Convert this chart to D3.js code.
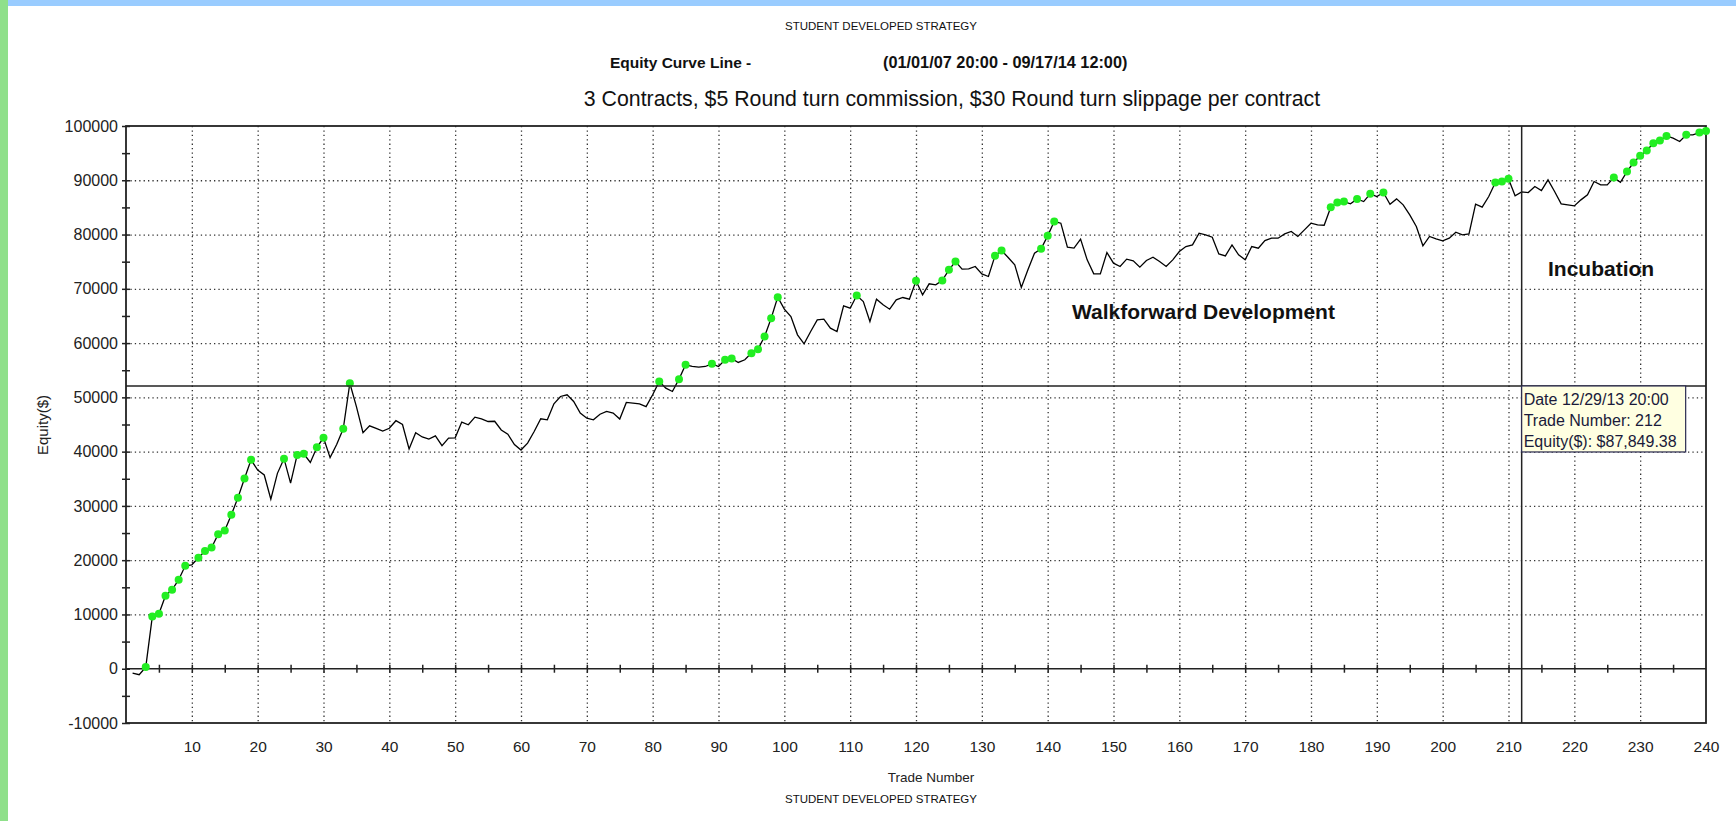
<!DOCTYPE html>
<html>
<head>
<meta charset="utf-8">
<script src="https://d3js.org/d3.v7.min.js"></script>
<style>
  body { margin: 0; background: #fff; }
  svg { display: block; font-family: Arial, "Liberation Sans", sans-serif; }
</style>
</head>
<body>
<svg width="1736" height="821"></svg>
<script>
// trade-by-trade closed equity, trade 1..240
var trades = d3.range(1, 241);
var equity = [
  -800, -1100, 300, 9640, 10130, 13450, 14550, 16400, 18970, 19150,
  20450, 21670, 22350, 24800, 25480, 28370, 31500, 35060, 38500, 36600,
  35700, 31250, 36000, 38700, 34200, 39400, 39600, 38000, 40800, 42550,
  38900, 41300, 44200, 52600, 48300, 43500, 44750, 44300, 43800, 44300,
  45700, 45000, 40500, 43500, 42700, 42300, 42900, 41100, 42500, 42550,
  45450, 44950, 46350, 46050, 45550, 45600, 44000, 43200, 41300, 40300,
  41570, 43700, 46050, 45870, 48800, 50160, 50470, 49240, 47100, 46170,
  45870, 46900, 47400, 47100, 46000, 49060, 48940, 48800, 48300, 50470,
  52930, 51700, 51080, 53360, 56000, 55690, 55570, 55690, 56180, 55690,
  56920, 57160, 56430, 56920, 58150, 58880, 61220, 64590, 68460, 66250,
  64900, 61520, 59870, 62140, 64290, 64410, 62750, 62140, 66870, 66430,
  68770, 67660, 63980, 68090, 67050, 66250, 67970, 68400, 68090, 71470,
  68890, 70920, 70730, 71550, 73500, 75030, 73620, 73680, 74110, 72760,
  72270, 76070, 77060, 75770, 74420, 70240, 73500, 76570, 77360, 79760,
  82400, 82090, 77670, 77490, 79150, 75340, 72760, 72760, 76690, 74720,
  74110, 75460, 75150, 73990, 75220, 75830, 75030, 74110, 75340, 76870,
  77790, 78100, 80250, 79940, 79510, 76440, 76070, 78100, 76260, 75340,
  77790, 77480, 78900, 79330, 79330, 80130, 80560, 79640, 80860, 82090,
  81780, 81720, 85040, 85900, 86080, 85650, 86570, 86080, 87500, 87000,
  87740, 85590, 86570, 85470, 83630, 81480, 77920, 79640, 79210, 78840,
  79330, 80430, 79940, 80130, 85590, 85040, 87000, 89580, 89770, 90260,
  87130, 87849.38, 87740, 88850, 88110, 90070, 87930, 85650, 85470, 85280,
  86390, 87310, 89770, 89150, 89150, 90500, 89640, 91610, 93270, 94500,
  95480, 96830, 97320, 98180, 97750, 97140, 98370, 98370, 98790, 99100
];
// trades that made a new equity high (green markers)
var newHighs = [3, 4, 5, 6, 7, 8, 9, 11, 12, 13, 14, 15, 16, 17, 18, 19, 24, 26, 27, 29, 30, 33, 34,
  81, 84, 85, 89, 91, 92, 95, 96, 97, 98, 99, 111, 120, 124, 125, 126, 132, 133, 139, 140, 141,
  183, 184, 185, 187, 189, 191, 208, 209, 210, 226, 228, 229, 230, 231, 232, 233, 234, 237, 239, 240];

var xTicks = d3.range(10, 241, 10);
var yTicks = d3.range(-10000, 100001, 10000);

// crosshair / tooltip state
var cursorTrade = 212;
var cursorEquity = 52100;
var tipLines = ["Date 12/29/13 20:00", "Trade Number: 212", "Equity($): $87,849.38"];

var data = trades.map(function(t, i) { return {t: t, e: equity[i]}; });

var svg = d3.select("svg"),
    width = +svg.attr("width"),
    height = +svg.attr("height");

var plot = {left: 126, top: 126, right: 1706, bottom: 723};

var xScale = d3.scaleLinear().domain([0, 240]).range([plot.left, plot.right]);
var yScale = d3.scaleLinear().domain([-10000, 100000]).range([plot.bottom, plot.top]);

// window chrome
svg.append("rect").attr("width", width).attr("height", height).attr("fill", "#fff");
svg.append("rect").attr("width", width).attr("height", 6).attr("fill", "#99ccff");
svg.append("rect").attr("width", 8).attr("height", height).attr("fill", "#8fe08a");

// titles
svg.append("text").attr("x", 881).attr("y", 30).attr("text-anchor", "middle")
  .attr("font-size", 11.5).attr("fill", "#111").text("STUDENT DEVELOPED STRATEGY");
svg.append("text").attr("x", 610).attr("y", 68)
  .attr("font-size", 15.5).attr("font-weight", "bold").attr("fill", "#111").text("Equity Curve Line -");
svg.append("text").attr("x", 883).attr("y", 68)
  .attr("font-size", 16.3).attr("font-weight", "bold").attr("fill", "#111").text("(01/01/07 20:00 - 09/17/14 12:00)");
svg.append("text").attr("x", 952).attr("y", 106).attr("text-anchor", "middle")
  .attr("font-size", 21.3).attr("fill", "#111")
  .text("3 Contracts, $5 Round turn commission, $30 Round turn slippage per contract");

// dotted grid
var grid = svg.append("g").attr("stroke", "#333").attr("stroke-width", 1.3).attr("stroke-dasharray", "1.3,3.1");
grid.selectAll(".vg").data(xTicks.filter(function(d) { return d < 240; }))
  .enter().append("line")
  .attr("x1", function(d) { return xScale(d) + 0.5; }).attr("x2", function(d) { return xScale(d) + 0.5; })
  .attr("y1", plot.top).attr("y2", plot.bottom);
grid.selectAll(".hg").data(yTicks.filter(function(d) { return d > 0 && d < 100000; }))
  .enter().append("line")
  .attr("y1", function(d) { return yScale(d) + 0.5; }).attr("y2", function(d) { return yScale(d) + 0.5; })
  .attr("x1", plot.left).attr("x2", plot.right);

// y axis, ticks every 5000 crossing the axis line
var yAxis = d3.axisLeft(yScale)
  .tickValues(d3.range(-10000, 100001, 5000))
  .tickSize(4).tickPadding(4)
  .tickFormat(function(d) { return d % 10000 === 0 ? d : ""; });
var gY = svg.append("g").attr("transform", "translate(" + plot.left + ",0)").call(yAxis);
gY.select(".domain").remove();
gY.selectAll(".tick line").attr("x1", -4).attr("x2", 4).attr("stroke", "#222").attr("stroke-width", 1.5);
gY.selectAll("text").attr("font-size", 16).attr("font-family", "Arial, 'Liberation Sans', sans-serif").attr("fill", "#222");

// x axis ticks sit on the zero line, labels under the frame
var xTickAxis = d3.axisBottom(xScale).tickValues(d3.range(5, 240, 5)).tickSize(4).tickFormat("");
var gXt = svg.append("g").attr("transform", "translate(0," + yScale(0) + ")").call(xTickAxis);
gXt.select(".domain").remove();
gXt.selectAll(".tick line").attr("y1", -4).attr("y2", 4).attr("stroke", "#222").attr("stroke-width", 1.5);

var xAxis = d3.axisBottom(xScale).tickValues(xTicks).tickSize(0).tickPadding(18);
var gX = svg.append("g").attr("transform", "translate(0," + plot.bottom + ")").call(xAxis);
gX.select(".domain").remove();
gX.selectAll("text").attr("font-size", 15.5).attr("font-family", "Arial, 'Liberation Sans', sans-serif").attr("fill", "#222");

// frame and zero line
svg.append("line").attr("x1", plot.left).attr("x2", plot.right)
  .attr("y1", yScale(0)).attr("y2", yScale(0)).attr("stroke", "#222").attr("stroke-width", 1.6);
svg.append("rect").attr("x", plot.left).attr("y", plot.top)
  .attr("width", plot.right - plot.left).attr("height", plot.bottom - plot.top)
  .attr("fill", "none").attr("stroke", "#222").attr("stroke-width", 1.8);

// axis titles
svg.append("text").attr("transform", "translate(48,425) rotate(-90)").attr("text-anchor", "middle")
  .attr("font-size", 15).attr("fill", "#222").text("Equity($)");
svg.append("text").attr("x", 931).attr("y", 782).attr("text-anchor", "middle")
  .attr("font-size", 13.5).attr("fill", "#222").text("Trade Number");
svg.append("text").attr("x", 881).attr("y", 803).attr("text-anchor", "middle")
  .attr("font-size", 11.5).attr("fill", "#111").text("STUDENT DEVELOPED STRATEGY");

// equity line
var line = d3.line()
  .x(function(d) { return xScale(d.t); })
  .y(function(d) { return yScale(d.e); });
svg.append("path").datum(data)
  .attr("d", line).attr("fill", "none").attr("stroke", "#000").attr("stroke-width", 1.3);

// new equity highs
svg.append("g").selectAll("circle")
  .data(data.filter(function(d) { return newHighs.indexOf(d.t) >= 0; }))
  .enter().append("circle")
  .attr("r", 4)
  .attr("cx", function(d) { return xScale(d.t); })
  .attr("cy", function(d) { return yScale(d.e); })
  .attr("fill", "#22ee22");

// period labels
svg.append("text").attr("x", 1072).attr("y", 319)
  .attr("font-size", 21).attr("font-weight", "bold").attr("fill", "#111").text("Walkforward Development");
svg.append("text").attr("x", 1548).attr("y", 276)
  .attr("font-size", 21).attr("font-weight", "bold").attr("fill", "#111").text("Incubation");

// crosshair
svg.append("line").attr("x1", xScale(cursorTrade)).attr("x2", xScale(cursorTrade))
  .attr("y1", plot.top).attr("y2", plot.bottom).attr("stroke", "#222").attr("stroke-width", 1.5);
svg.append("line").attr("x1", plot.left).attr("x2", plot.right)
  .attr("y1", yScale(cursorEquity)).attr("y2", yScale(cursorEquity)).attr("stroke", "#222").attr("stroke-width", 1.5);

// tooltip box
var tip = svg.append("g").attr("transform", "translate(" + xScale(cursorTrade) + "," + yScale(cursorEquity) + ")");
tip.append("rect").attr("x", 0).attr("y", 0).attr("width", 164).attr("height", 66)
  .attr("fill", "#ffffe1").attr("stroke", "#2a2a50").attr("stroke-width", 1.2);
tip.selectAll("text").data(tipLines).enter().append("text")
  .attr("x", 2).attr("y", function(d, i) { return 19 + i * 21; })
  .attr("font-size", 16).attr("fill", "#1a1a3a").text(function(d) { return d; });
</script>
</body>
</html>
